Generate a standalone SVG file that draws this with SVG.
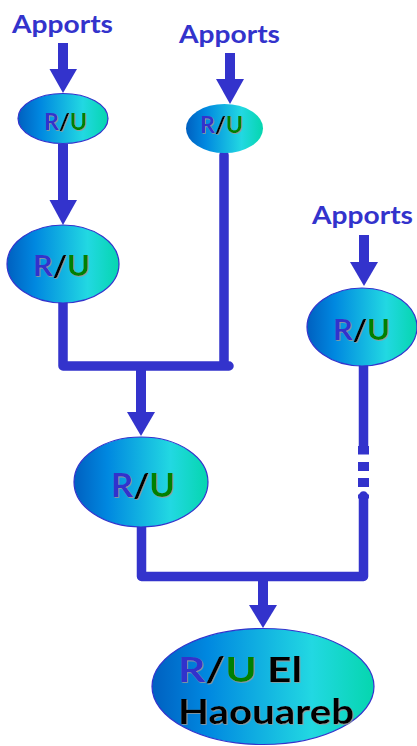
<svg xmlns="http://www.w3.org/2000/svg" width="417" height="746" viewBox="0 0 417 746">
<style>
.n{fill:url(#g);stroke:#3333cc;stroke-width:1.2}
.a{fill:#3333cc}
.l{fill:none;stroke:#3333cc;stroke-width:9.5;stroke-linejoin:round;stroke-linecap:round}
.s{fill:none;stroke:#3333cc;stroke-width:10}
text{font-family:Lato,"Open Sans",sans-serif;font-weight:700}
.p{fill:#3333cc;font-size:25px}
.t{filter:url(#sh);fill:#000}
.r{fill:#3333cc}.u{fill:#008000}
</style>
<defs>
<linearGradient id="g" x1="0" x2="1" y1="0" y2="0">
<stop offset="0" stop-color="#0060c0"/><stop offset=".25" stop-color="#0088e0"/><stop offset=".72" stop-color="#22d8e2"/><stop offset="1" stop-color="#05d6ae"/>
</linearGradient>
<filter id="sh" x="-10%" y="-10%" width="120%" height="130%"><feDropShadow dx=".8" dy=".8" stdDeviation=".4" flood-color="#999"/></filter>
</defs>
<g id="connectors">
<path class="l" d="M224 155V365M63 303V366H229"/>
<path class="l" d="M363.500 366V446M363.500 496V576.500H141.500V527"/>
<path class="a" d="M358 446h11v8.500h-11zM358 462h11v9h-11zM358 478h11v9h-11zM358 494.500h11v4h-11z"/>
<path class="s" d="M63 43V69"/><path class="a" d="M49.500 69H77L63 93Z"/>
<path class="s" d="M230 53V80"/><path class="a" d="M216 79H244L230 104Z"/>
<path class="s" d="M63 144V201"/><path class="a" d="M49.500 200H77L63 225Z"/>
<path class="s" d="M364 235V263"/><path class="a" d="M350 262H378L364 286Z"/>
<path class="s" d="M141 370V413"/><path class="a" d="M127 412H155L141 436Z"/>
<path class="s" d="M263 581V606"/><path class="a" d="M249 605H277L263 628Z"/>
</g>
<g id="label-apports-1"><text class="p" x="12" y="33" textLength="101" lengthAdjust="spacingAndGlyphs">Apports</text></g>
<g id="label-apports-2"><text class="p" x="179" y="43" textLength="101" lengthAdjust="spacingAndGlyphs">Apports</text></g>
<g id="label-apports-3"><text class="p" x="312" y="224" textLength="101" lengthAdjust="spacingAndGlyphs">Apports</text></g>
<g id="node-1"><ellipse class="n" cx="63" cy="118.500" rx="45" ry="25"/><text class="t" x="44" y="130" font-size="22" textLength="43" lengthAdjust="spacingAndGlyphs"><tspan class="r">R</tspan>/<tspan class="u">U</tspan></text></g>
<g id="node-2"><ellipse cx="224.500" cy="128.500" rx="38.500" ry="24.500" fill="url(#g)"/><text class="t" x="200" y="133" font-size="22" textLength="43" lengthAdjust="spacingAndGlyphs"><tspan class="r">R</tspan>/<tspan class="u">U</tspan></text></g>
<g id="node-3"><ellipse class="n" cx="63" cy="264" rx="56" ry="39"/><text class="t" x="33" y="276" font-size="29" textLength="57" lengthAdjust="spacingAndGlyphs"><tspan class="r">R</tspan>/<tspan class="u">U</tspan></text></g>
<g id="node-4"><ellipse class="n" cx="362" cy="327" rx="55" ry="39"/><text class="t" x="333" y="340" font-size="29" textLength="57" lengthAdjust="spacingAndGlyphs"><tspan class="r">R</tspan>/<tspan class="u">U</tspan></text></g>
<g id="node-5"><ellipse class="n" cx="141" cy="482" rx="67" ry="45"/><text class="t" x="111" y="497" font-size="32" textLength="64" lengthAdjust="spacingAndGlyphs"><tspan class="r">R</tspan>/<tspan class="u">U</tspan></text></g>
<g id="node-6"><ellipse class="n" cx="263" cy="686.500" rx="111" ry="58"/><text class="t" x="178" y="682" font-size="35" textLength="124" lengthAdjust="spacingAndGlyphs"><tspan class="r">R</tspan>/<tspan class="u">U</tspan> El</text><text class="t" x="178" y="724" font-size="35" textLength="176" lengthAdjust="spacingAndGlyphs">Haouareb</text></g>
</svg>
